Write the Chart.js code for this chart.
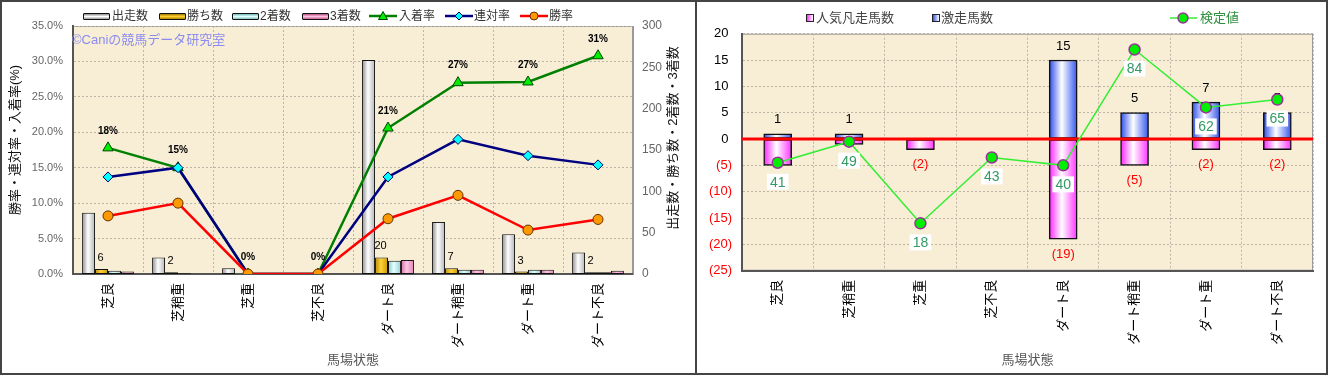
<!DOCTYPE html>
<html>
<head>
<meta charset="utf-8">
<script src="https://cdn.jsdelivr.net/npm/chart.js@4.4.0/dist/chart.umd.min.js"></script>
<style>
body{margin:0;width:1328px;height:375px;position:relative;background:#fff;overflow:hidden;
  font-family:"Liberation Sans","Noto Sans CJK JP",sans-serif}
.panel{position:absolute;top:0;height:375px;box-sizing:border-box;border:2px solid #444}
#p1{left:0;width:697px}
#p2{left:695px;width:633px}
.panel canvas{position:absolute;left:0;top:0}
.lg{position:absolute;white-space:nowrap;font-size:12px;line-height:14px;color:#333}
.lg2{font-size:13px;line-height:16px;color:#444}
.box{position:absolute;height:5px;width:25px;border:1px solid #111;border-radius:1px}
.sq{position:absolute;width:6px;height:6px;border:1px solid #222}
.ic{position:absolute}
</style>
</head>
<body>
<div class="panel" id="p1"><canvas id="c1" width="693" height="371"></canvas></div>
<div class="panel" id="p2"><canvas id="c2" width="629" height="371"></canvas></div>

<!-- legend, left chart -->
<span class="box" style="left:83px;top:13px;background:linear-gradient(180deg,#888,#fff 50%,#999)"></span>
<span class="lg" style="left:112px;top:9px">出走数</span>
<span class="box" style="left:159px;top:13px;background:linear-gradient(180deg,#a07800,#ffd030 50%,#b08400)"></span>
<span class="lg" style="left:187px;top:9px">勝ち数</span>
<span class="box" style="left:232px;top:13px;background:linear-gradient(180deg,#70b8b8,#e0ffff 50%,#80c0c0)"></span>
<span class="lg" style="left:260px;top:9px">2着数</span>
<span class="box" style="left:302px;top:13px;background:linear-gradient(180deg,#b05080,#ffc0e0 50%,#c06090)"></span>
<span class="lg" style="left:330px;top:9px">3着数</span>
<svg class="ic" style="left:369px;top:10px" width="28" height="12"><line x1="0" y1="6" x2="28" y2="6" stroke="#008000" stroke-width="2.5"/><polygon points="14,1.5 18.5,9.5 9.5,9.5" fill="#00ee00" stroke="#004400" stroke-width="1"/></svg>
<span class="lg" style="left:399px;top:9px">入着率</span>
<svg class="ic" style="left:445px;top:10px" width="28" height="12"><line x1="0" y1="6" x2="28" y2="6" stroke="#000080" stroke-width="2.5"/><polygon points="14,2 18,6 14,10 10,6" fill="#00ffff" stroke="#000060" stroke-width="1"/></svg>
<span class="lg" style="left:474px;top:9px">連対率</span>
<svg class="ic" style="left:520px;top:10px" width="28" height="12"><line x1="0" y1="6" x2="28" y2="6" stroke="#ff0000" stroke-width="2.5"/><circle cx="14" cy="6" r="4" fill="#ff9900" stroke="#663300" stroke-width="1"/></svg>
<span class="lg" style="left:549px;top:9px">勝率</span>

<!-- legend, right chart -->
<span class="sq" style="left:806px;top:14px;background:linear-gradient(90deg,#ff33ff,#fff)"></span>
<span class="lg lg2" style="left:816px;top:10px">人気凡走馬数</span>
<span class="sq" style="left:932px;top:14px;background:linear-gradient(90deg,#3355ee,#fff)"></span>
<span class="lg lg2" style="left:941px;top:10px">激走馬数</span>
<svg class="ic" style="left:1170px;top:12px" width="27" height="12"><line x1="0" y1="6" x2="27" y2="6" stroke="#33ee33" stroke-width="1.5"/><circle cx="13" cy="6" r="5" fill="#00ee00" stroke="#993399" stroke-width="1.5"/></svg>
<span class="lg lg2" style="left:1200px;top:10px;color:#2f8f3f">検定値</span>

<script>
// 馬場状態
const categories = ['芝良', '芝稍重', '芝重', '芝不良', 'ダート良', 'ダート稍重', 'ダート重', 'ダート不良'];

// left chart: counts (right axis)
const starts  = [74, 20, 7, 0, 259, 63, 48, 26];
const wins    = [6, 2, 0, 0, 20, 7, 3, 2];
const seconds = [4, 1, 0, 0, 16, 5, 5, 2];
const thirds  = [3, 0, 0, 0, 17, 5, 5, 4];

// left chart: rates in % (left axis)
const placeRate  = [17.8, 15.0, 0, 0, 20.6, 27.0, 27.1, 30.8];
const rentaiRate = [13.7, 15.0, 0, 0, 13.7, 19.0, 16.7, 15.4];
const winRate    = [8.2, 10.0, 0, 0, 7.8, 11.1, 6.2, 7.7];

// right chart
const slumpCount = [-5, -1, -2, 0, -19, -5, -2, -2];   // 人気凡走馬数
const upsetCount = [1, 1, 0, 0, 15, 5, 7, 5];          // 激走馬数
const testValue  = [41, 49, 18, 43, 40, 84, 62, 65];   // 検定値

// axis ticks
const rateTicks  = {min: 0, max: 35, step: 5};
const countTicks = {min: 0, max: 300, step: 50};
const diffTicks  = {min: -25, max: 20, step: 5};
const testRange  = {min: 0, max: 90};

const FONT = '"Liberation Sans","Noto Sans CJK JP",sans-serif';
Chart.defaults.font.family = FONT;

// beige plot background + thin frame
const plotBg = {
  id: 'plotBg',
  beforeDraw(chart, args, opts) {
    const a = chart.chartArea, c = chart.ctx;
    c.save();
    c.fillStyle = opts.color || '#f8eed7';
    c.fillRect(a.left, a.top, a.right - a.left, a.bottom - a.top);
    c.strokeStyle = '#999';
    c.lineWidth = 1;
    c.strokeRect(a.left + 0.5, a.top + 0.5, a.right - a.left - 1, a.bottom - a.top - 1);
    c.restore();
  }
};

// horizontal gradient on bars (cylinder look)
const barShade = {
  id: 'barShade',
  beforeDatasetDraw(chart, args) {
    const ds = chart.data.datasets[args.index];
    if (!ds.shade) return;
    const c = chart.ctx;
    args.meta.data.forEach(el => {
      const p = el.getProps(['x', 'width'], true);
      if (!isFinite(p.x) || !isFinite(p.width) || p.width <= 0) return;
      const g = c.createLinearGradient(p.x - p.width / 2, 0, p.x + p.width / 2, 0);
      g.addColorStop(0, ds.shade[0]);
      g.addColorStop(0.45, ds.shade[1]);
      g.addColorStop(1, ds.shade[2]);
      el.options.backgroundColor = g;
    });
  }
};

const leftText = {
  id: 'leftText',
  beforeDatasetsDraw(chart) {
    const c = chart.ctx, a = chart.chartArea;
    c.save();
    c.font = '13px ' + FONT;
    c.fillStyle = '#8c8cf0';
    c.textAlign = 'left';
    c.textBaseline = 'middle';
    c.fillText('©Caniの競馬データ研究室', a.left - 1, 38);
    c.restore();
  },
  afterDatasetsDraw(chart) {
    const c = chart.ctx;
    c.save();
    c.textAlign = 'center';
    c.textBaseline = 'middle';
    c.fillStyle = '#000';
    // 勝ち数 labels
    c.font = '11px ' + FONT;
    chart.getDatasetMeta(1).data.forEach((el, i) => {
      if (!wins[i]) return;
      c.fillText(String(wins[i]), el.x - 1, el.y - 11);
    });
    // 入着率 labels
    c.font = 'bold 10px ' + FONT;
    chart.getDatasetMeta(4).data.forEach((el, i) => {
      c.fillText(Math.round(placeRate[i]) + '%', el.x, el.y - 17);
    });
    // axis titles
    c.font = '13px ' + FONT;
    c.fillStyle = '#111';
    c.translate(13, 138);
    c.rotate(-Math.PI / 2);
    c.fillText('勝率・連対率・入着率(%)', 0, 0);
    c.restore();
    c.save();
    c.font = '13px ' + FONT;
    c.fillStyle = '#111';
    c.textAlign = 'center';
    c.textBaseline = 'middle';
    c.translate(671, 136);
    c.rotate(-Math.PI / 2);
    c.fillText('出走数・勝ち数・2着数・3着数', 0, 0);
    c.restore();
  }
};

const rightText = {
  id: 'rightText',
  afterDatasetDraw(chart, args) {
    const c = chart.ctx, a = chart.chartArea;
    const meta = args.meta;
    c.save();
    c.textAlign = 'center';
    c.textBaseline = 'middle';
    c.font = '13px ' + FONT;
    if (args.index === 0) {
      c.fillStyle = '#ff0000';
      meta.data.forEach((el, i) => {
        if (!slumpCount[i]) return;
        c.fillText('(' + (-slumpCount[i]) + ')', el.x, el.y + 15);
      });
    } else if (args.index === 1) {
      // zero line
      const y0 = chart.scales.y.getPixelForValue(0);
      c.strokeStyle = '#ff0000';
      c.lineWidth = 3;
      c.beginPath();
      c.moveTo(a.left, y0);
      c.lineTo(a.right, y0);
      c.stroke();
      c.fillStyle = '#000';
      meta.data.forEach((el, i) => {
        if (!upsetCount[i]) return;
        c.fillText(String(upsetCount[i]), el.x, el.y - 14);
      });
    }
    c.restore();
  },
  afterDatasetsDraw(chart) {
    const c = chart.ctx;
    c.save();
    c.font = '14px ' + FONT;
    c.textAlign = 'center';
    c.textBaseline = 'middle';
    chart.getDatasetMeta(2).data.forEach((el, i) => {
      const t = String(testValue[i]);
      const w = c.measureText(t).width + 6;
      const y = el.y + 19;
      c.fillStyle = '#fff';
      c.fillRect(el.x - w / 2, y - 8, w, 16);
      c.fillStyle = '#339966';
      c.fillText(t, el.x, y + 1);
    });
    c.restore();
  }
};

const gridCol = '#bdb5a5';

new Chart(document.getElementById('c1'), {
  data: {
    labels: categories,
    datasets: [
      {type: 'bar', label: '出走数', data: starts, yAxisID: 'y1', order: 10,
       shade: ['#8a8a8a', '#ffffff', '#b4b4b4'], backgroundColor: () => '#ddd',
       borderColor: '#111', borderWidth: 1, borderSkipped: false,
       categoryPercentage: 0.74, barPercentage: 1},
      {type: 'bar', label: '勝ち数', data: wins, yAxisID: 'y1', order: 10,
       shade: ['#b88a00', '#ffd23a', '#c99a00'], backgroundColor: () => '#e6b000',
       borderColor: '#111', borderWidth: 1, borderSkipped: false,
       categoryPercentage: 0.74, barPercentage: 1},
      {type: 'bar', label: '2着数', data: seconds, yAxisID: 'y1', order: 10,
       shade: ['#80c8c8', '#e8ffff', '#90d0d0'], backgroundColor: () => '#b0eeee',
       borderColor: '#111', borderWidth: 1, borderSkipped: false,
       categoryPercentage: 0.74, barPercentage: 1},
      {type: 'bar', label: '3着数', data: thirds, yAxisID: 'y1', order: 10,
       shade: ['#d070a8', '#ffc8e4', '#e080b4'], backgroundColor: () => '#f0a0c8',
       borderColor: '#111', borderWidth: 1, borderSkipped: false,
       categoryPercentage: 0.74, barPercentage: 1},
      {type: 'line', label: '入着率', data: placeRate, yAxisID: 'y', order: 3,
       borderColor: '#008000', borderWidth: 2.5, tension: 0,
       pointStyle: 'triangle', pointRadius: 6, pointBackgroundColor: '#00ee00',
       pointBorderColor: '#004400', pointBorderWidth: 1},
      {type: 'line', label: '連対率', data: rentaiRate, yAxisID: 'y', order: 2,
       borderColor: '#000080', borderWidth: 2.5, tension: 0,
       pointStyle: 'rectRot', pointRadius: 5, pointBackgroundColor: '#00ffff',
       pointBorderColor: '#000060', pointBorderWidth: 1},
      {type: 'line', label: '勝率', data: winRate, yAxisID: 'y', order: 1,
       borderColor: '#ff0000', borderWidth: 2.5, tension: 0,
       pointStyle: 'circle', pointRadius: 5, pointBackgroundColor: '#ff9900',
       pointBorderColor: '#663300', pointBorderWidth: 1}
    ]
  },
  options: {
    responsive: false,
    animation: false,
    layout: {padding: {top: 24, left: 0, right: 0, bottom: 0}},
    plugins: {legend: {display: false}, tooltip: {enabled: false}, plotBg: {color: '#f8eed6'}},
    scales: {
      x: {
        grid: {color: gridCol, offset: true, drawTicks: false},
        border: {color: '#555', width: 2, dash: [2, 2]},
        ticks: {minRotation: 90, maxRotation: 90, padding: 9, color: '#000', font: {size: 13}},
        title: {display: true, text: '馬場状態', color: '#555', font: {size: 13}, padding: {top: 0, bottom: 5}},
        afterFit(s) { s.height = 99; }
      },
      y: {
        position: 'left', min: rateTicks.min, max: rateTicks.max,
        ticks: {stepSize: rateTicks.step, callback: v => v.toFixed(1) + '%', color: '#666', font: {size: 11}, padding: 10},
        grid: {color: gridCol, drawTicks: false},
        border: {color: '#555', width: 2, dash: [2, 2]},
        afterFit(s) { s.width = 71; }
      },
      y1: {
        position: 'right', min: countTicks.min, max: countTicks.max,
        ticks: {stepSize: countTicks.step, color: '#666', font: {size: 12}, padding: 9},
        grid: {display: false, drawTicks: false},
        border: {color: '#999', width: 1},
        afterFit(s) { s.width = 62; }
      }
    }
  },
  plugins: [plotBg, barShade, leftText]
});

new Chart(document.getElementById('c2'), {
  data: {
    labels: categories,
    datasets: [
      {type: 'bar', label: '人気凡走馬数', data: slumpCount, order: 3, yAxisID: 'y',
       shade: ['#ff22ff', '#ffffff', '#ff33ff'], backgroundColor: () => '#ff99ff',
       borderColor: '#111', borderWidth: 1.5, borderSkipped: false, barThickness: 28},
      {type: 'bar', label: '激走馬数', data: upsetCount, order: 2, yAxisID: 'y',
       shade: ['#2a4bea', '#ffffff', '#3355ee'], backgroundColor: () => '#99aaff',
       borderColor: '#111', borderWidth: 1.5, borderSkipped: false, barThickness: 28},
      {type: 'line', label: '検定値', data: testValue, order: 1, yAxisID: 'y2',
       borderColor: '#33ee33', borderWidth: 1.5, tension: 0,
       pointRadius: 5.5, pointBackgroundColor: '#00ee00', pointBorderColor: '#993399', pointBorderWidth: 1.5}
    ]
  },
  options: {
    responsive: false,
    animation: false,
    layout: {padding: {top: 31.7, left: 0, right: 13, bottom: 0}},
    plugins: {legend: {display: false}, tooltip: {enabled: false}, plotBg: {color: '#f8eed6'}},
    scales: {
      x: {
        stacked: true,
        grid: {color: gridCol, offset: true, drawTicks: false},
        border: {color: '#555', width: 2, dash: [2, 2]},
        ticks: {minRotation: 90, maxRotation: 90, padding: 9, color: '#000', font: {size: 13}},
        title: {display: true, text: '馬場状態', color: '#555', font: {size: 13}, padding: {top: 0, bottom: 5}},
        afterFit(s) { s.height = 102.3; }
      },
      y: {
        stacked: true, position: 'left', min: diffTicks.min, max: diffTicks.max,
        ticks: {stepSize: diffTicks.step, padding: 10, font: {size: 13},
                color: ctx => ctx.tick && ctx.tick.value < 0 ? '#ff0000' : '#000',
                callback: v => v < 0 ? '(' + (-v) + ')' : v + ' '},
        grid: {color: gridCol, drawTicks: false},
        border: {color: '#555', width: 2, dash: [2, 2]},
        afterFit(s) { s.width = 45; }
      },
      y2: {display: false, min: testRange.min, max: testRange.max}
    }
  },
  plugins: [plotBg, barShade, rightText]
});
</script>
</body>
</html>
